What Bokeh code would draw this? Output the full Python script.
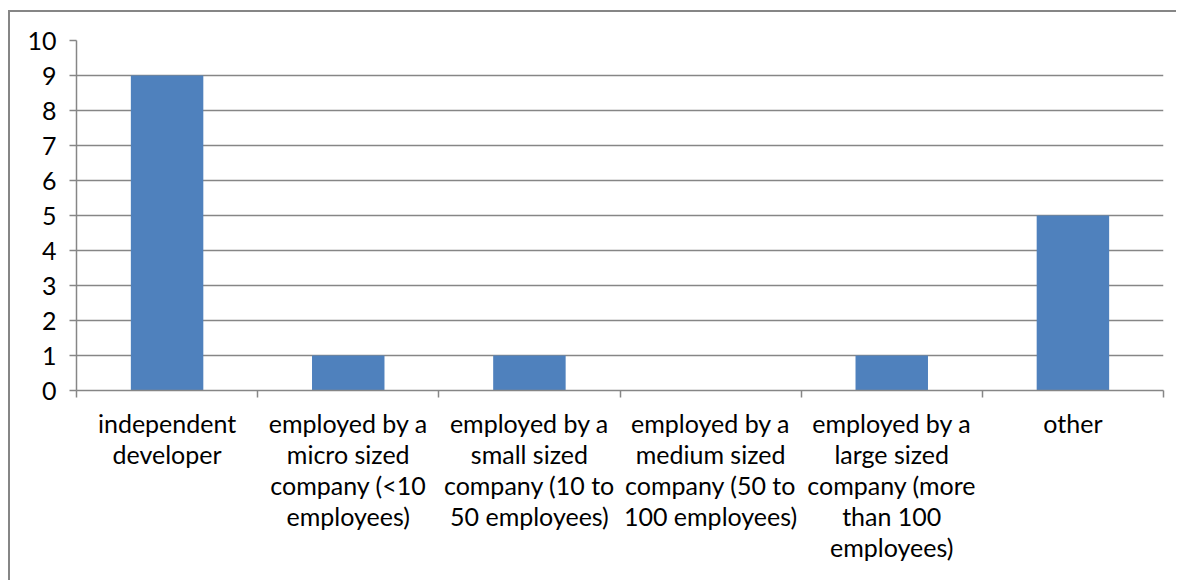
from bokeh.plotting import figure
from bokeh.models import FixedTicker, Range1d
from bokeh.embed import file_html
from bokeh.resources import INLINE

categories = [
    "independent\ndeveloper",
    "employed by a\nmicro sized\ncompany (<10\nemployees)",
    "employed by a\nsmall sized\ncompany (10 to\n50 employees)",
    "employed by a\nmedium sized\ncompany (50 to\n100 employees)",
    "employed by a\nlarge sized\ncompany (more\nthan 100\nemployees)",
    "other",
]
values = [9, 1, 1, 0, 1, 5]
y_ticks = list(range(0, 11))

n = len(categories)
centers = [i + 0.5 for i in range(n)]
bounds = list(range(n + 1))

FONT = "Lato"
GRAY = "#868686"

p = figure(frame_width=1087, frame_height=350, output_backend="svg", toolbar_location=None,
           x_range=Range1d(0, n), y_range=Range1d(0, 10),
           min_border_left=66, min_border_right=13, min_border_top=28, min_border_bottom=190)
p.styles = {"margin-left": "8px", "margin-top": "10px",
            "border-left": "2px solid #868686", "border-top": "2px solid #868686"}
p.outline_line_color = None
p.background_fill_color = "white"
p.border_fill_color = "white"

p.vbar(x=centers, top=values, width=0.4, bottom=0, fill_color="#4F81BD", line_color=None)

# x axis
p.xaxis.ticker = FixedTicker(ticks=centers, minor_ticks=bounds)
p.xaxis.major_label_overrides = {c: lab for c, lab in zip(centers, categories)}
p.xaxis.major_tick_line_color = None
p.xaxis.major_tick_out = 0
p.xaxis.major_tick_in = 0
p.xaxis.minor_tick_line_color = GRAY
p.xaxis.minor_tick_line_width = 1.5
p.xaxis.minor_tick_out = 7
p.xaxis.minor_tick_in = 0
p.xaxis.axis_line_color = GRAY
p.xaxis.axis_line_width = 1.5
p.xaxis.major_label_text_font = FONT
p.xaxis.major_label_text_font_size = "25px"
p.xaxis.major_label_text_color = "black"
p.xaxis.major_label_text_line_height = 1.04
p.xaxis.major_label_standoff = 10
p.xaxis.major_label_orientation = "horizontal"

# y axis
p.yaxis.ticker = FixedTicker(ticks=y_ticks)
p.yaxis.minor_tick_line_color = None
p.yaxis.major_tick_line_color = GRAY
p.yaxis.major_tick_line_width = 1.5
p.yaxis.major_tick_out = 7
p.yaxis.major_tick_in = 0
p.yaxis.axis_line_color = GRAY
p.yaxis.axis_line_width = 1.5
p.yaxis.major_label_text_font = FONT
p.yaxis.major_label_text_font_size = "25px"
p.yaxis.major_label_text_color = "black"
p.yaxis.major_label_standoff = 13

p.xgrid.grid_line_color = None
p.ygrid.ticker = FixedTicker(ticks=y_ticks)
p.ygrid.grid_line_color = GRAY
p.ygrid.grid_line_width = 1.5

open("out.html", "w").write(file_html(p, INLINE))
